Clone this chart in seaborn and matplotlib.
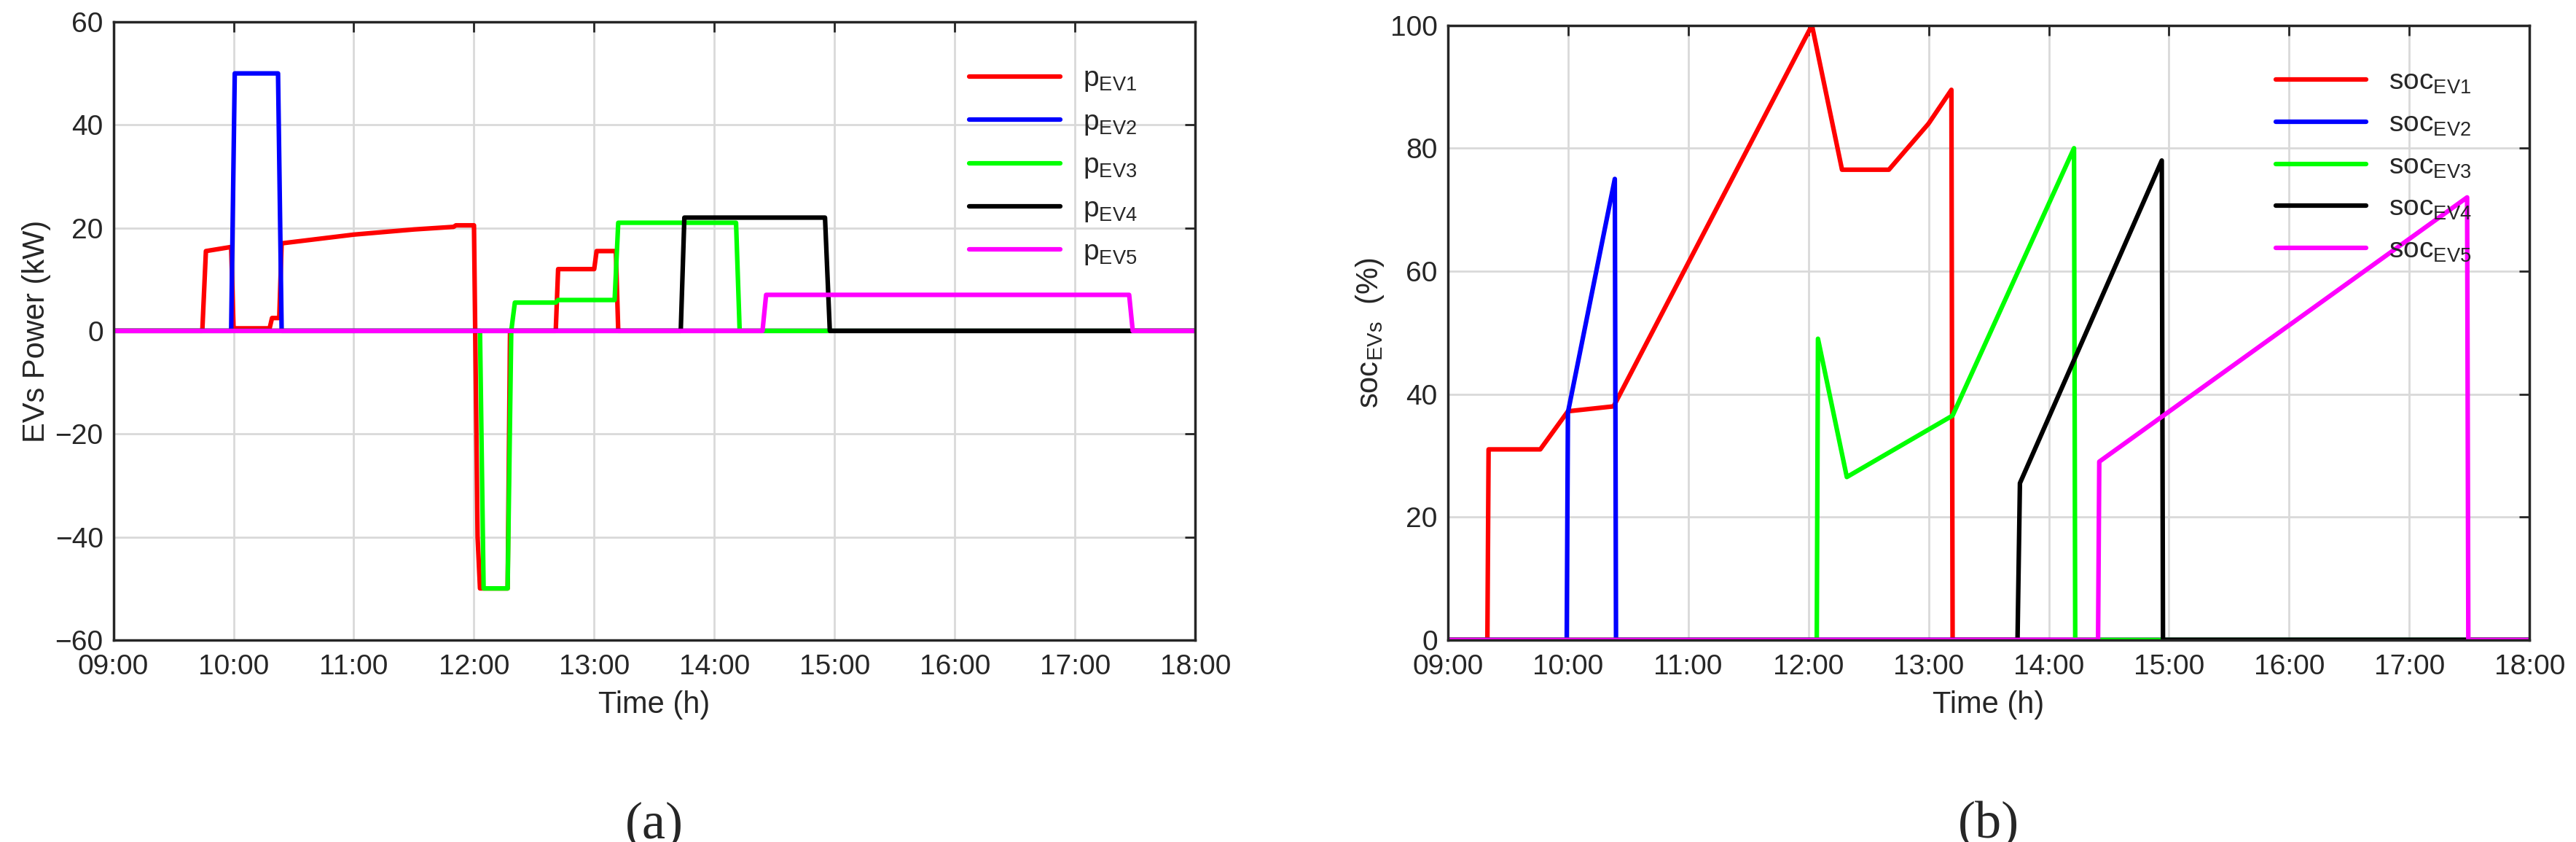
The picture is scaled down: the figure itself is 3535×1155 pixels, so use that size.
import matplotlib
matplotlib.use('Agg')
import matplotlib.pyplot as plt
import seaborn as sns
import numpy as np

# time in hours
p_ev1_t = [9.0, 9.74, 9.77, 9.98, 10.0, 10.30, 10.32, 10.38, 10.40, 11.0, 11.5, 11.83, 11.85, 12.0, 12.03, 12.05, 12.28, 12.30, 12.68, 12.70, 13.0, 13.02, 13.18, 13.20, 18.0]
p_ev1_v = [0, 0, 15.5, 16.3, 0.5, 0.5, 2.5, 2.5, 17.0, 18.7, 19.7, 20.2, 20.5, 20.5, -40, -50, -50, 0, 0, 12, 12, 15.5, 15.5, 0, 0]
p_ev2_t = [9.0, 9.98, 10.01, 10.37, 10.40, 18.0]
p_ev2_v = [0, 0, 50, 50, 0, 0]
p_ev3_t = [9.0, 12.05, 12.08, 12.28, 12.31, 12.34, 12.68, 12.70, 13.17, 13.20, 14.18, 14.21, 18.0]
p_ev3_v = [0, 0, -50, -50, 0, 5.5, 5.5, 6.0, 6.0, 21, 21, 0, 0]
p_ev4_t = [9.0, 13.72, 13.75, 14.92, 14.96, 18.0]
p_ev4_v = [0, 0, 22, 22, 0, 0]
p_ev5_t = [9.0, 14.40, 14.43, 17.45, 17.48, 18.0]
p_ev5_v = [0, 0, 7, 7, 0, 0]

soc_ev1_t = [9.0, 9.33, 9.34, 9.77, 10.0, 10.38, 12.03, 12.28, 12.67, 13.0, 13.19, 13.20, 18.0]
soc_ev1_v = [0, 0, 31, 31, 37.2, 38, 100, 76.5, 76.5, 84, 89.5, 0, 0]
soc_ev2_t = [9.0, 9.99, 10.0, 10.39, 10.40, 18.0]
soc_ev2_v = [0, 0, 37, 75, 0, 0]
soc_ev3_t = [9.0, 12.07, 12.08, 12.32, 13.2, 14.21, 14.22, 18.0]
soc_ev3_v = [0, 0, 49, 26.5, 36.5, 80, 0, 0]
soc_ev4_t = [9.0, 13.74, 13.76, 14.94, 14.95, 18.0]
soc_ev4_v = [0, 0, 25.5, 78, 0, 0]
soc_ev5_t = [9.0, 14.41, 14.42, 17.48, 17.49, 18.0]
soc_ev5_v = [0, 0, 29, 72, 0, 0]

colors = ['#ff0000', '#0000ff', '#00ff00', '#000000', '#ff00ff']
ticks = np.arange(9, 19)
tick_labels = [f"{h:02d}:00" for h in ticks]

sns.set_style('white')
plt.rcParams['font.family'] = ['Liberation Sans', 'DejaVu Sans']

fig = plt.figure(figsize=(35.35, 11.55), dpi=100)
ax1 = fig.add_axes([0.044, 0.240, 0.42, 0.734])
ax2 = fig.add_axes([0.562, 0.240, 0.42, 0.730])

p_series = [(p_ev1_t, p_ev1_v), (p_ev2_t, p_ev2_v), (p_ev3_t, p_ev3_v), (p_ev4_t, p_ev4_v), (p_ev5_t, p_ev5_v)]
s_series = [(soc_ev1_t, soc_ev1_v), (soc_ev2_t, soc_ev2_v), (soc_ev3_t, soc_ev3_v), (soc_ev4_t, soc_ev4_v), (soc_ev5_t, soc_ev5_v)]

for i, (t, v) in enumerate(p_series):
    sns.lineplot(x=t, y=v, ax=ax1, color=colors[i], linewidth=4.5, sort=False,
                 label=r'$\mathregular{p_{EV%d}}$' % (i + 1))
for i, (t, v) in enumerate(s_series):
    sns.lineplot(x=t, y=v, ax=ax2, color=colors[i], linewidth=4.5, sort=False,
                 label=r'$\mathregular{soc_{EV%d}}$' % (i + 1))

ax1.set_ylim(-60, 60)
ax1.set_yticks(range(-60, 61, 20))
ax1.set_ylabel('EVs Power (kW)', fontsize=30)
ax2.set_ylim(0, 100)
ax2.set_yticks(range(0, 101, 20))
ax2.set_ylabel(r'$\mathregular{soc_{EVs}}$  (%)', fontsize=30)

for ax, cap in [(ax1, '(a)'), (ax2, '(b)')]:
    ax.set_xlim(9, 18)
    ax.set_xticks(ticks)
    ax.set_xticklabels(tick_labels)
    ax.tick_params(labelsize=28, direction='in', length=10, width=2, top=True, right=True,
                   color='#262626', labelcolor='#262626')
    ax.tick_params(axis='x', pad=14)
    ax.tick_params(axis='y', pad=10)
    ax.grid(True, color='#d9d9d9', linewidth=2)
    ax.set_xlabel('Time (h)', fontsize=30, color='#262626', labelpad=10)
    for s in ax.spines.values():
        s.set_linewidth(2.5)
        s.set_color('#262626')
    ax.legend(loc='upper right', frameon=False, fontsize=28, handlelength=3.2,
              labelspacing=0.55, bbox_to_anchor=(0.97, 0.97))
    ax.text(0.5, -0.30, cap, transform=ax.transAxes, ha='center', va='center',
            fontsize=52, family='Liberation Serif')

fig.savefig('out.png', dpi=100)
